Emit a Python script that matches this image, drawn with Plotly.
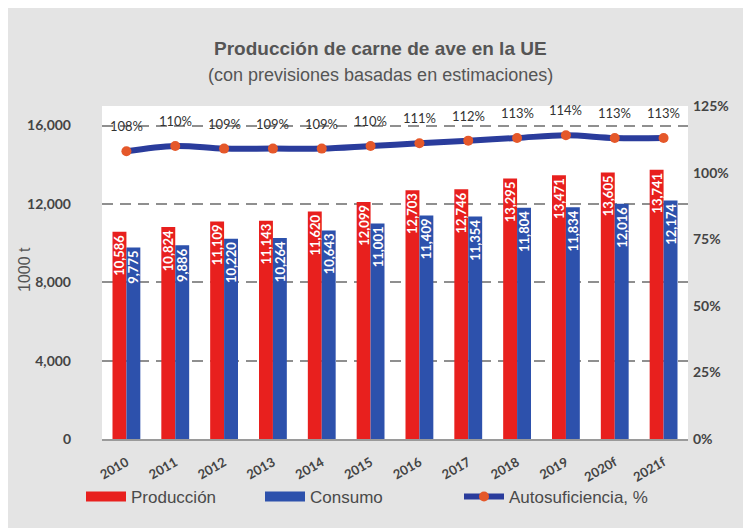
import plotly.graph_objects as go

# ---- data ----
years = ["2010", "2011", "2012", "2013", "2014", "2015", "2016", "2017", "2018", "2019", "2020f", "2021f"]
produccion = [10586, 10824, 11109, 11143, 11620, 12099, 12703, 12746, 13295, 13471, 13605, 13741]
consumo = [9775, 9886, 10220, 10264, 10643, 11001, 11409, 11354, 11804, 11834, 12016, 12174]
autosuficiencia = [108, 110, 109, 109, 109, 110, 111, 112, 113, 114, 113, 113]
left_ticks = [0, 4000, 8000, 12000, 16000]
right_ticks = [0, 25, 50, 75, 100, 125]
right_labels = ["0%", "25%", "50%", "75%", "100%", "125%"]

RED = "#E8201E"
BLUE = "#2D51AC"
LINE = "#2A3C9C"
MARK = "#E5582A"
GRAY_TXT = "#555555"
NUM_FONT = "Lato"

W, H = 751, 528
ML, MR, MT, MB = 94, 71, 98, 97
PW, PH = W - ML - MR, H - MT - MB


def px_x(px):
    return (px - ML) / PW


def px_y(py):
    return (H - MB - py) / PH


fig = go.Figure()

fig.add_trace(go.Bar(
    x=years, y=produccion, name="Producción", legendgroup="prod", showlegend=False,
    marker=dict(color=RED, line=dict(width=0)),
    text=[f"{v:,}" for v in produccion], textposition="inside", textangle=-90,
    insidetextanchor="end", constraintext="none",
    textfont=dict(family=NUM_FONT, size=13, color="white", weight="bold"),
))
fig.add_trace(go.Bar(
    x=years, y=consumo, name="Consumo", legendgroup="cons", showlegend=False,
    marker=dict(color=BLUE, line=dict(width=0)),
    text=[f"{v:,}" for v in consumo], textposition="inside", textangle=-90,
    insidetextanchor="end", constraintext="none",
    textfont=dict(family=NUM_FONT, size=13, color="white", weight="bold"),
))
fig.add_trace(go.Scatter(
    x=years, y=autosuficiencia, name="Autosuficiencia, %", yaxis="y2",
    mode="lines+markers", line=dict(color=LINE, width=6, shape="spline"),
    marker=dict(color=MARK, size=10, line=dict(width=0)),
    legend="legend3",
))

# legend swatches (wide bar-like symbols), grouped with the bars
fig.add_trace(go.Scatter(x=[None], y=[None], mode="lines", name="Producción",
                         legendgroup="prod", line=dict(color=RED, width=12), legend="legend"))
fig.add_trace(go.Scatter(x=[None], y=[None], mode="lines", name="Consumo",
                         legendgroup="cons", line=dict(color=BLUE, width=12), legend="legend2"))

annotations = []
for i, v in enumerate(autosuficiencia):
    annotations.append(dict(
        x=i, y=v, xref="x", yref="y2", text=f"{v}%", showarrow=False, yshift=25,
        font=dict(family=NUM_FONT, size=13, color="#333333"),
    ))

annotations.append(dict(
    x=px_x(372), y=px_y(41), xref="paper", yref="paper", xanchor="center", yanchor="middle",
    text="<b>Producción de carne de ave en la UE</b>", showarrow=False,
    font=dict(family="Liberation Sans", size=19, color=GRAY_TXT),
))
annotations.append(dict(
    x=px_x(372), y=px_y(67), xref="paper", yref="paper", xanchor="center", yanchor="middle",
    text="(con previsiones basadas en estimaciones)", showarrow=False,
    font=dict(family="Liberation Sans", size=18, color=GRAY_TXT),
))
# y-axis title
annotations.append(dict(
    x=px_x(16), y=px_y(262), xref="paper", yref="paper", xanchor="center", yanchor="middle",
    text="1000 t", textangle=-90, showarrow=False,
    font=dict(family="Liberation Sans", size=16, color=GRAY_TXT),
))

legend_common = dict(
    orientation="h", xref="container", yref="container", yanchor="middle", xanchor="left",
    bgcolor="rgba(0,0,0,0)", itemwidth=40,
    font=dict(family="Liberation Sans", size=17, color="#4a4a4a"),
)

fig.update_layout(
    width=W, height=H,
    margin=dict(l=ML, r=MR, t=MT, b=MB, autoexpand=False),
    paper_bgcolor="#E4E4E4", plot_bgcolor="#FFFFFF",
    barmode="group", bargap=0.43, bargroupgap=0.0,
    showlegend=True,
    legend=dict(x=73 / W, y=1 - 489 / H, **legend_common),
    legend2=dict(x=252 / W, y=1 - 489 / H, **legend_common),
    legend3=dict(x=451 / W, y=1 - 489 / H, **legend_common),
    annotations=annotations,
    xaxis=dict(
        type="category", range=[-0.5, len(years) - 0.5], tickangle=-30, showgrid=False, showline=True,
        linecolor="#9a9a9a", linewidth=2, ticks="", ticklabelstandoff=9,
        tickfont=dict(family=NUM_FONT, size=13, color="#444444", weight="bold"),
    ),
    yaxis=dict(
        range=[0, 17000], tickvals=left_ticks, tickformat=",d",
        showgrid=True, gridcolor="#8f8f8f", gridwidth=2, griddash="11px,7px",
        zeroline=False, showline=False, ticks="", ticklabelstandoff=30,
        tickfont=dict(family=NUM_FONT, size=14, color="#444444", weight="bold"),
    ),
    yaxis2=dict(
        range=[0, 125], tickvals=right_ticks, ticktext=right_labels, overlaying="y", side="right",
        showgrid=False, zeroline=False, showline=False, ticks="", ticklabelstandoff=4,
        tickfont=dict(family=NUM_FONT, size=14, color="#444444", weight="bold"),
    ),
)

fig.write_html("out.html")
